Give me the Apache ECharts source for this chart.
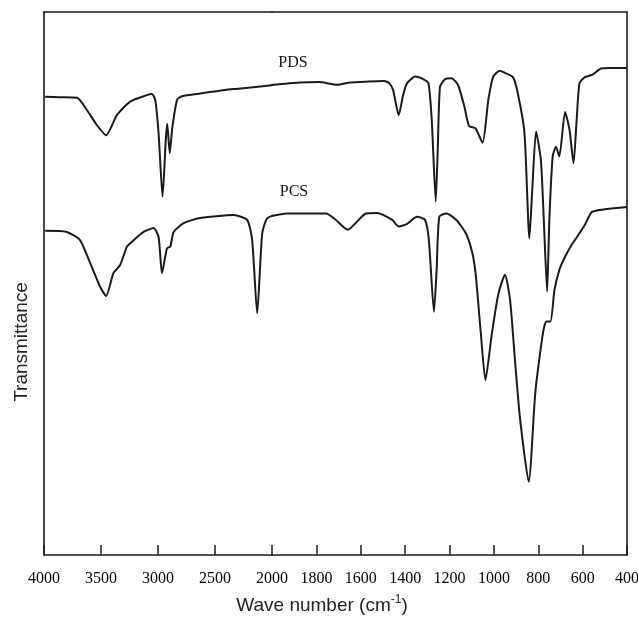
<!DOCTYPE html>
<html>
<head>
<meta charset="utf-8">
<title>PDS / PCS IR spectra</title>
<script src="https://cdn.jsdelivr.net/npm/echarts@6/dist/echarts.min.js"></script>
<style>
  html, body { margin: 0; padding: 0; background: #fff; }
  #chart { width: 638px; height: 619px; }
</style>
</head>
<body>
<div id="chart"></div>
<script>
// wavenumber (cm-1)
const pdsWavenumber = [3990, 3860, 3710, 3625, 3537, 3455, 3361, 3244, 3097, 3053, 3024, 2995, 2960, 2932, 2919, 2897, 2875, 2833, 2790, 2629, 2339, 2042, 1875, 1787, 1706, 1647, 1494, 1472, 1454, 1429, 1409, 1391, 1354, 1317, 1295, 1280, 1262, 1253, 1243, 1221, 1191, 1162, 1133, 1112, 1083, 1051, 1025, 1003, 973, 951, 914, 892, 862, 840, 827, 810, 788, 775, 760, 750, 735, 720, 705, 679, 659, 641, 627, 614, 590, 558, 517, 477, 400]
const pdsTransmittance = [84.4, 84.3, 84.2, 82.0, 79.2, 77.3, 81.0, 83.5, 84.7, 84.9, 83.8, 77.7, 66.0, 76.4, 79.4, 74.0, 78.6, 83.8, 84.5, 85.0, 85.8, 86.4, 87.0, 87.1, 86.6, 87.0, 87.3, 86.9, 85.6, 81.0, 84.7, 86.9, 88.1, 87.6, 86.9, 80.1, 65.1, 74.6, 86.2, 87.6, 87.8, 86.6, 82.6, 79.0, 78.6, 75.9, 83.8, 88.1, 89.2, 88.8, 88.0, 85.0, 77.7, 58.3, 67.2, 78.0, 72.7, 61.7, 48.5, 61.7, 73.4, 75.2, 73.4, 81.6, 78.3, 72.1, 80.1, 86.9, 88.0, 88.4, 89.6, 89.7, 89.7]

const pcsWavenumber = [3990, 3800, 3684, 3596, 3508, 3455, 3391, 3332, 3273, 3244, 3127, 3039, 2995, 2965, 2921, 2892, 2863, 2775, 2644, 2336, 2218, 2174, 2130, 2086, 2042, 1933, 1875, 1796, 1756, 1712, 1659, 1577, 1526, 1458, 1429, 1391, 1347, 1310, 1293, 1270, 1258, 1246, 1213, 1169, 1126, 1097, 1081, 1059, 1038, 1009, 979, 950, 927, 905, 883, 843, 816, 809, 779, 764, 745, 727, 705, 682, 650, 623, 590, 558, 493, 400]
const pcsTransmittance = [59.7, 59.5, 58.0, 53.8, 49.4, 47.7, 51.9, 53.4, 56.8, 57.4, 59.5, 60.2, 58.6, 51.9, 56.5, 56.8, 59.5, 61.1, 62.0, 62.6, 61.7, 58.0, 44.5, 59.2, 62.0, 62.9, 62.9, 62.9, 62.9, 61.7, 59.9, 62.9, 63.0, 61.7, 60.5, 61.0, 62.3, 61.7, 58.0, 44.8, 52.5, 62.3, 62.9, 61.7, 59.2, 55.6, 51.3, 40.9, 32.2, 40.8, 48.2, 51.6, 47.0, 35.9, 25.5, 13.5, 28.5, 31.6, 40.8, 43.0, 43.0, 48.8, 52.5, 54.7, 57.1, 58.7, 60.8, 63.2, 63.7, 64.1]

// the axis changes scale at 2000 cm-1
const breakPoint = 2000
const highRange = [2000, 4000]
const lowRange = [400, 2000]

const chartInstance = echarts.init(document.getElementById('chart'))

// split one spectrum over the two grids, keeping one point past the break so the line reaches it (clipped)
const splitSpectrum = (wn, t, low) => {
  const pts = wn.map((w, i) => [w, t[i]])
  const idx = pts.findIndex(p => p[0] < breakPoint)
  return low ? pts.slice(idx - 1) : pts.slice(0, idx + 1)
}

const lineColor = '#1a1a1a'
const frame = { show: true, onZero: false, lineStyle: { color: lineColor, width: 1.6 } }
const bottomAxis = (grid, range, step) => ({
  type: 'value',
  gridIndex: grid,
  position: 'bottom',
  inverse: true,
  min: range[0],
  max: range[1],
  interval: step,
  axisLine: frame,
  axisTick: { show: true, inside: true, length: 10, lineStyle: { color: lineColor, width: 1.5 } },
  axisLabel: {
    margin: 16,
    color: '#000',
    fontFamily: 'Liberation Serif',
    fontSize: 16,
    showMinLabel: grid === 1,
    formatter: v => String(v)
  },
  splitLine: { show: false }
})
const topAxis = (grid, range) => ({
  type: 'value',
  gridIndex: grid,
  position: 'top',
  inverse: true,
  min: range[0],
  max: range[1],
  axisLine: frame,
  axisTick: { show: false },
  axisLabel: { show: false },
  splitLine: { show: false }
})
const sideAxis = (grid, pos) => ({
  type: 'value',
  gridIndex: grid,
  position: pos,
  min: 0,
  max: 100,
  axisLine: frame,
  axisTick: { show: false },
  axisLabel: { show: false },
  splitLine: { show: false }
})
const spectrum = (name, data, grid) => ({
  name: name,
  type: 'line',
  xAxisIndex: grid,
  yAxisIndex: grid,
  data: data,
  showSymbol: false,
  smooth: 0.2,
  clip: true,
  lineStyle: { color: lineColor, width: 2 }
})

const option = {
  animation: false,
  backgroundColor: '#fff',
  grid: [
    { left: 44, top: 12, width: 228, height: 543, outerBoundsMode: 'none' },
    { left: 272, top: 12, width: 355, height: 543, outerBoundsMode: 'none' }
  ],
  xAxis: [
    bottomAxis(0, highRange, 500),
    bottomAxis(1, lowRange, 200),
    topAxis(0, highRange),
    topAxis(1, lowRange)
  ],
  yAxis: [sideAxis(0, 'left'), sideAxis(1, 'right')],
  series: [
    spectrum('PDS', splitSpectrum(pdsWavenumber, pdsTransmittance, false), 0),
    spectrum('PDS', splitSpectrum(pdsWavenumber, pdsTransmittance, true), 1),
    spectrum('PCS', splitSpectrum(pcsWavenumber, pcsTransmittance, false), 0),
    spectrum('PCS', splitSpectrum(pcsWavenumber, pcsTransmittance, true), 1)
  ],
  graphic: [
    {
      type: 'text', x: 293, y: 63,
      style: { text: 'PDS', fill: '#111', font: '16px "Liberation Serif"', align: 'center', verticalAlign: 'middle', textAlign: 'center', textVerticalAlign: 'middle' }
    },
    {
      type: 'text', x: 294, y: 192,
      style: { text: 'PCS', fill: '#111', font: '16px "Liberation Serif"', align: 'center', verticalAlign: 'middle', textAlign: 'center', textVerticalAlign: 'middle' }
    },
    {
      type: 'text', x: 22, y: 342, rotation: Math.PI / 2,
      style: { text: 'Transmittance', fill: '#222', font: '19px "Liberation Sans"', align: 'center', verticalAlign: 'middle', textAlign: 'center', textVerticalAlign: 'middle' }
    },
    {
      type: 'text', x: 322, y: 606,
      style: {
        text: 'Wave number (cm{sup|-1})',
        fill: '#222',
        font: '19px "Liberation Sans"',
        align: 'center', verticalAlign: 'middle', textAlign: 'center', textVerticalAlign: 'middle',
        rich: {
          sup: { fontSize: 12, fontFamily: 'Liberation Sans', fill: '#222', color: '#222', padding: [0, 0, 12, 0] }
        }
      }
    }
  ]
}

chartInstance.setOption(option)
</script>
</body>
</html>
